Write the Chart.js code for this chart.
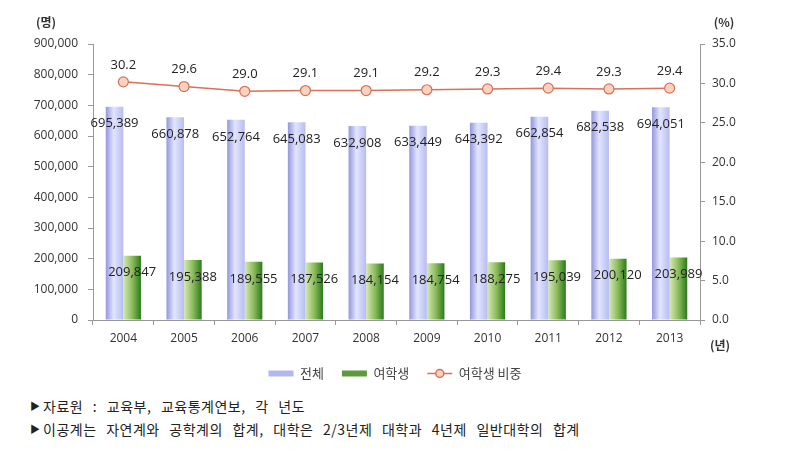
<!DOCTYPE html>
<html>
    <head>
        <meta charset="utf-8">
        <title>이공계 여학생 비중</title>
        <script src="https://cdn.jsdelivr.net/npm/chart.js@4.4.0/dist/chart.umd.min.js"></script>
        <style>
            body { margin: 0; background: #fff; }
            #wrap { position: relative; width: 790px; height: 390px; }
            .note { font-family: "Noto Sans CJK KR", sans-serif; font-size: 14px; color: #222; margin-left: 30px; height: 23px; letter-spacing: 0.5px; word-spacing: 6px; }
            .note span { display: inline-block; width: 13px; font-size: 10px; vertical-align: 2px; letter-spacing: 0; }
        </style>
    </head>
    <body>
        <div id="wrap"><canvas id="chart"></canvas></div>
        <div style="margin-top: 6px">
            <div class="note"><span>▶</span>자료원 : 교육부, 교육통계연보, 각 년도</div>
            <div class="note"><span>▶</span>이공계는 자연계와 공학계의 합계, 대학은 2/3년제 대학과 4년제 일반대학의 합계</div>
        </div>
        <script>
            const years = ["2004", "2005", "2006", "2007", "2008", "2009", "2010", "2011", "2012", "2013"];
            const totalStudents = [695389, 660878, 652764, 645083, 632908, 633449, 643392, 662854, 682538, 694051];
            const femaleStudents = [209847, 195388, 189555, 187526, 184154, 184754, 188275, 195039, 200120, 203989];
            const femaleShare = [30.2, 29.6, 29.0, 29.1, 29.1, 29.2, 29.3, 29.4, 29.3, 29.4];
            const seriesNames = ["전체", "여학생", "여학생 비중"];

            const numFont = "'Open Sans', 'Noto Sans CJK KR', sans-serif";
            const catPct = 0.58;

            // horizontal gradient for each bar, worked out from the x scale
            const barGradient = (ctx, side, stops) => {
                const chart = ctx.chart;
                const scale = chart.scales.x;
                if (!scale || !chart.chartArea) return stops[0][1];
                const center = scale.getPixelForValue(ctx.dataIndex);
                const half = scale.width / years.length * catPct / 2;
                const x0 = side === 0 ? center - half : center;
                const x1 = side === 0 ? center : center + half;
                const g = chart.ctx.createLinearGradient(x0, 0, x1, 0);
                stops.forEach(s => g.addColorStop(s[0], s[1]));
                return g;
            };

            const blueStops = [[0, "#9397db"], [0.45, "#e2e5ff"], [1, "#b7bcf0"]];
            const greenStops = [[0, "#d6e8b8"], [0.5, "#8cbc5c"], [1, "#2b7a1c"]];

            const valueLabels = {
                id: "valueLabels",
                afterDatasetsDraw(chart) {
                    const ctx = chart.ctx;
                    ctx.save();
                    ctx.font = "13px " + numFont;
                    ctx.fillStyle = "#222";
                    ctx.textAlign = "center";
                    ctx.textBaseline = "middle";
                    chart.data.datasets.forEach((ds, i) => {
                        const meta = chart.getDatasetMeta(i);
                        meta.data.forEach((el, j) => {
                            const v = ds.data[j];
                            if (ds.type === "line") {
                                ctx.fillText(v.toFixed(1), el.x, el.y - 17);
                            } else {
                                ctx.fillText(v.toLocaleString("en-US"), el.x, el.y + 17);
                            }
                        });
                    });
                    ctx.restore();
                }
            };

            const unitLabels = {
                id: "unitLabels",
                afterDraw(chart) {
                    const ctx = chart.ctx;
                    const area = chart.chartArea;
                    ctx.save();
                    ctx.font = "bold 12px 'Noto Sans CJK KR', sans-serif";
                    ctx.fillStyle = "#333";
                    ctx.textBaseline = "middle";
                    ctx.textAlign = "center";
                    ctx.fillText("(명)", 46, 22);
                    ctx.fillText("(%)", area.right + 24, 22);
                    ctx.fillText("(년)", area.right + 20, area.bottom + 25);

                    // line + marker in the legend for the share series
                    const box = chart.legend.legendHitBoxes[2];
                    if (box) {
                        const y = box.top + box.height / 2;
                        ctx.strokeStyle = "#d9705a";
                        ctx.lineWidth = 1.5;
                        ctx.beginPath();
                        ctx.moveTo(box.left, y);
                        ctx.lineTo(box.left + 25, y);
                        ctx.stroke();
                        ctx.beginPath();
                        ctx.arc(box.left + 12.5, y, 4, 0, Math.PI * 2);
                        ctx.fillStyle = "#fbd2bd";
                        ctx.fill();
                        ctx.stroke();
                    }
                    ctx.restore();
                }
            };

            const chart = new Chart(document.getElementById("chart"), {
                data: {
                    labels: years,
                    datasets: [
                        {
                            type: "line",
                            label: seriesNames[2],
                            data: femaleShare,
                            yAxisID: "y2",
                            borderColor: "#d9705a",
                            borderWidth: 1.5,
                            pointRadius: 5,
                            pointBackgroundColor: "#fbd2bd",
                            pointBorderColor: "#d9705a",
                            pointBorderWidth: 1.2,
                            order: 0,
                        },
                        {
                            type: "bar",
                            label: seriesNames[0],
                            data: totalStudents,
                            yAxisID: "y",
                            backgroundColor: ctx => barGradient(ctx, 0, blueStops),
                            order: 1,
                        },
                        {
                            type: "bar",
                            label: seriesNames[1],
                            data: femaleStudents,
                            yAxisID: "y",
                            backgroundColor: ctx => barGradient(ctx, 1, greenStops),
                            order: 1,
                        },
                    ]
                },
                options: {
                    responsive: true,
                    maintainAspectRatio: false,
                    animation: false,
                    datasets: { bar: { categoryPercentage: catPct, barPercentage: 1 } },
                    layout: { padding: { top: 44, left: 0, right: 0, bottom: 0 } },
                    plugins: {
                        tooltip: { enabled: false },
                        legend: {
                            position: "bottom",
                            labels: {
                                font: { size: 13, family: "'Noto Sans CJK KR', sans-serif" },
                                color: "#444",
                                boxWidth: 25,
                                boxHeight: 6,
                                padding: 18,
                                generateLabels: (c) => [1, 2, 0].map(i => ({
                                    text: seriesNames[[1, 2, 0].indexOf(i)],
                                    datasetIndex: i,
                                    fillStyle: i === 1 ? "#b3b7ee" : (i === 2 ? "#5c9a3a" : "rgba(0,0,0,0)"),
                                    strokeStyle: "rgba(0,0,0,0)",
                                    lineWidth: 0,
                                    fontColor: "#444",
                                })),
                            }
                        }
                    },
                    scales: {
                        x: {
                            grid: { display: true, drawOnChartArea: false, tickLength: 5, color: "#999", offset: true },
                            border: { color: "#999" },
                            ticks: { font: { size: 12, family: numFont }, color: "#333", padding: 6 },
                            afterFit: s => { s.height = 29; },
                        },
                        y: {
                            position: "left",
                            min: 0,
                            max: 900000,
                            ticks: {
                                stepSize: 100000,
                                font: { size: 12, family: numFont },
                                color: "#333",
                                padding: 10,
                                callback: v => v.toLocaleString("en-US"),
                            },
                            grid: { drawOnChartArea: false, tickLength: 5, color: "#999" },
                            border: { color: "#999" },
                            afterFit: s => { s.width = 93; },
                        },
                        y2: {
                            position: "right",
                            min: 0,
                            max: 35,
                            ticks: {
                                stepSize: 5,
                                font: { size: 12, family: numFont },
                                color: "#333",
                                padding: 7,
                                callback: v => v.toFixed(1),
                            },
                            grid: { drawOnChartArea: false, tickLength: 5, color: "#999" },
                            border: { color: "#999" },
                            afterFit: s => { s.width = 90; },
                        },
                    }
                },
                plugins: [valueLabels, unitLabels],
            });
        </script>
    </body>
</html>
